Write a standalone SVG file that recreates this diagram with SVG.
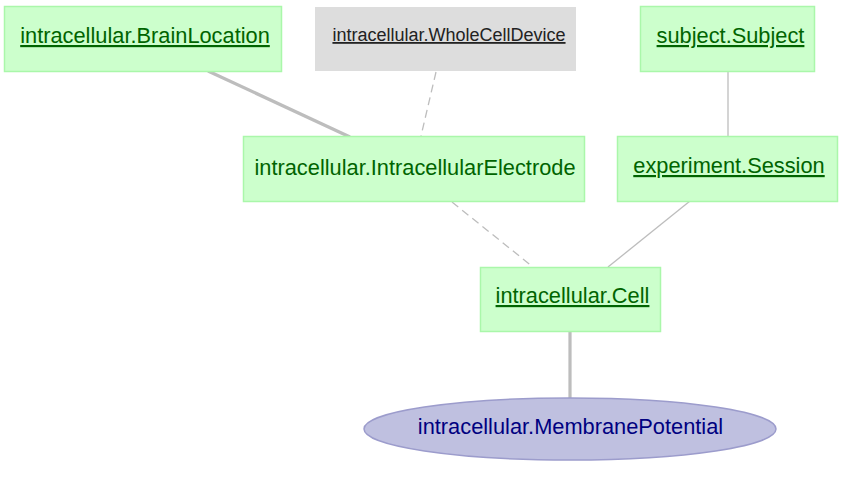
<svg xmlns="http://www.w3.org/2000/svg" width="857" height="483" viewBox="0 0 857 483">
<style>
.box{fill:#ccffcc;stroke:#aaf7aa;stroke-width:1.5}
.gbox{fill:#dddddd;stroke:#dddddd}
.t{font-family:"Liberation Sans",Arial,sans-serif;font-size:21.8px;fill:#006400;text-anchor:middle}
.u{text-decoration:underline}
.edge{stroke:#bdbdbd;fill:none;stroke-width:1.3}
.thick{stroke-width:3.2}
.dash{stroke-dasharray:8,5}
</style>
<rect width="857" height="483" fill="#ffffff"/>
<g id="connectors">
<line class="edge thick" x1="208" y1="71" x2="350" y2="137"/>
<line class="edge dash" x1="436" y1="72" x2="421" y2="136"/>
<line class="edge" x1="728" y1="71" x2="728" y2="136"/>
<line class="edge dash" x1="452" y1="202" x2="533" y2="267"/>
<line class="edge" x1="690" y1="201" x2="608" y2="267"/>
<line class="edge thick" x1="570" y1="332" x2="570" y2="398"/>
</g>
<g id="BrainLocation">
<rect class="box" x="4.5" y="6.5" width="277" height="65"/>
<text class="t u" x="145" y="43">intracellular.BrainLocation</text>
</g>
<g id="WholeCellDevice">
<rect class="gbox" x="315.5" y="7.5" width="260" height="63"/>
<text class="t u" x="449" y="41" style="font-size:18px;fill:#222222">intracellular.WholeCellDevice</text>
</g>
<g id="Subject">
<rect class="box" x="640.5" y="6.5" width="174" height="65"/>
<text class="t u" x="730.5" y="43">subject.Subject</text>
</g>
<g id="IntracellularElectrode">
<rect class="box" x="243.5" y="136.5" width="341" height="65"/>
<text class="t" x="415" y="175">intracellular.IntracellularElectrode</text>
</g>
<g id="Session">
<rect class="box" x="617.5" y="136.5" width="220" height="65"/>
<text class="t u" x="729" y="173">experiment.Session</text>
</g>
<g id="Cell">
<rect class="box" x="480.5" y="267.5" width="180" height="64"/>
<text class="t u" x="572.5" y="303">intracellular.Cell</text>
</g>
<g id="MembranePotential">
<ellipse cx="570" cy="429" rx="206" ry="31" fill="#bfc0e0" stroke="#9c9ccc" stroke-width="1.5"/>
<text class="t" x="570.5" y="434" style="fill:#000080">intracellular.MembranePotential</text>
</g>
</svg>
